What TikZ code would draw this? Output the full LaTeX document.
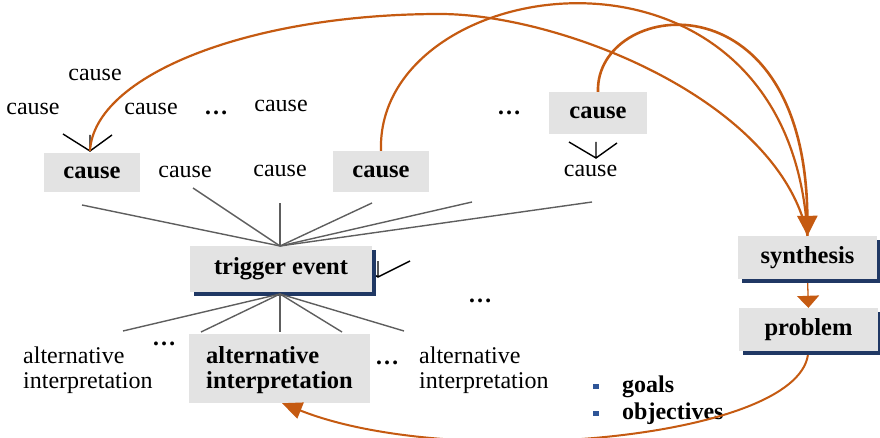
\documentclass[tikz,border=0pt]{standalone}
\usepackage{fontspec}
\setmainfont{Liberation Serif}
\usetikzlibrary{arrows.meta,shadows}
\definecolor{rust}{HTML}{C55A11}
\definecolor{boxgrey}{HTML}{E3E3E3}
\definecolor{navyshade}{HTML}{203864}
\definecolor{fangrey}{HTML}{5E5E5E}
\definecolor{bulletblue}{HTML}{2F5597}
\newcommand\listsquare{{\color{bulletblue}\raisebox{3pt}{\rule{5.5pt}{5.5pt}}}\hspace{23.5pt}}
\begin{document}
\begin{tikzpicture}[x=1pt,y=-1pt,
  every node/.style={font=\fontsize{24pt}{25pt}\selectfont, inner sep=0pt},
  plain/.style={anchor=base},
  boldtext/.style={font=\fontsize{24.5pt}{25pt}\selectfont\bfseries},
  greybox/.style={fill=boxgrey, boldtext},
  shadowbox/.style={greybox, drop shadow={shadow xshift=4pt, shadow yshift=-4pt, fill=navyshade, opacity=1}},
  fan/.style={draw=fangrey, line width=1.4pt},
  vmark/.style={draw=black, line width=1.4pt},
  flow/.style={draw=rust, line width=2.2pt},
  bigtip/.style={-{Triangle[length=20pt,width=20pt]}},
]
\useasboundingbox (0,0) rectangle (880,438);

% tips of the small fork marks
\coordinate (vL) at (90,151);
\coordinate (vR) at (596,158);
\coordinate (vT) at (378,277);

% fork beside the trigger event, partly hidden by its box
\draw[vmark] (vT) ++(-27,-16) -- (vT) -- ++(32,-16) (vT) -- ++(0,-16);

% grey boxes
\node[greybox, minimum width=96pt, minimum height=39pt] (causeL) at (92,172.5) {cause};
\node[greybox, minimum width=96pt, minimum height=41pt] (causeM) at (381,171.5) {cause};
\node[greybox, minimum width=98pt, minimum height=42pt] (causeR) at (598,113) {cause};
\node[shadowbox, minimum width=182pt, minimum height=46pt] (trigger) at (281,269) {trigger event};
\node[greybox, minimum width=181pt, minimum height=69pt] (altbox) at (279.5,368.5) {};
\node[anchor=base west, boldtext] (altlabel) at (206,363)
  {\vtop{\hbox{alternative}\hbox{interpretation}}};
\node[shadowbox, minimum width=139pt, minimum height=43pt] (synthesis) at (807.5,257.5) {synthesis};
\node[shadowbox, minimum width=139pt, minimum height=43pt] (problem) at (808.5,329.5) {problem};

% plain labels
\node[plain] (c1) at (95,81) {cause};
\node[plain] (c2) at (33,115) {cause};
\node[plain] (c3) at (151,115) {cause};
\node[plain] (d1) at (216,115) {\bfseries …};
\node[plain] (c4) at (281,112) {cause};
\node[plain] (c5) at (185,178) {cause};
\node[plain] (c6) at (280,177) {cause};
\node[plain] (d2) at (509,115) {\bfseries …};
\node[plain] (c7) at (590.5,177) {cause};
\node[plain] (d3) at (480,302) {\bfseries …};
\node[plain] (d4) at (164,345) {\bfseries …};
\node[plain] (d5) at (387,364) {\bfseries …};
\node[anchor=base west] (altL) at (23,363) {\vtop{\hbox{alternative}\hbox{interpretation}}};
\node[anchor=base west] (altR) at (419,363) {\vtop{\hbox{alternative}\hbox{interpretation}}};
\node[anchor=base west, font=\fontsize{24pt}{27pt}\selectfont\bfseries] (aims) at (593,392)
  {\vtop{\hbox{\listsquare goals}\hbox{\listsquare objectives}}};

% fan of causes above the trigger event
\coordinate (fu1) at (82,205);
\coordinate (fu2) at (193,188);
\coordinate (fu3) at (280,203);
\coordinate (fu4) at (372,203);
\coordinate (fu5) at (472,202);
\coordinate (fu6) at (592,202);
\coordinate (fantop) at (280,246);
\foreach \e in {fu1,fu2,fu3,fu4,fu5,fu6} \draw[fan] (fantop) -- (\e);

% fan of interpretations below it
\coordinate (fanlow) at (280,294);
\coordinate (fl1) at (123,331);
\coordinate (fl2) at (201,332);
\coordinate (fl3) at (280,332);
\coordinate (fl4) at (342,332);
\coordinate (fl5) at (404,331);
\foreach \e in {fl1,fl2,fl3,fl4,fl5} \draw[fan] (fanlow) -- (\e);

% fork marks
\draw[vmark] (vL) ++(-27,-17) -- (vL) -- ++(22,-16) (vL) -- ++(0,-16);
\draw[vmark] (vR) ++(-27,-16) -- (vR) -- ++(21,-15) (vR) -- ++(0,-16);

% arcs gathering the causes into the synthesis
\draw[flow] (vL) .. controls (94,75) and (250,14) .. (440,14)
  .. controls (560,14) and (780,100) .. (synthesis.north);
\draw[flow] (causeM.north) .. controls (375,-30) and (790,-90) .. (synthesis.north);
\draw[flow, line width=2.6pt, bigtip] (causeR.north) .. controls (595,0) and (805,-30) .. (synthesis.north);

% synthesis to problem, and back to the interpretation
\draw[draw=rust, line width=1.3pt, shorten <=4pt, -{Triangle[length=12pt,width=22pt]}]
  (synthesis.south) -- (problem.north);
\draw[flow, line width=2pt, shorten <=4pt, -{Triangle[length=20pt,width=17pt]}]
  (problem.south) .. controls (795,440) and (450,470) .. ([xshift=2.5pt]altbox.south);
\end{tikzpicture}
\end{document}
